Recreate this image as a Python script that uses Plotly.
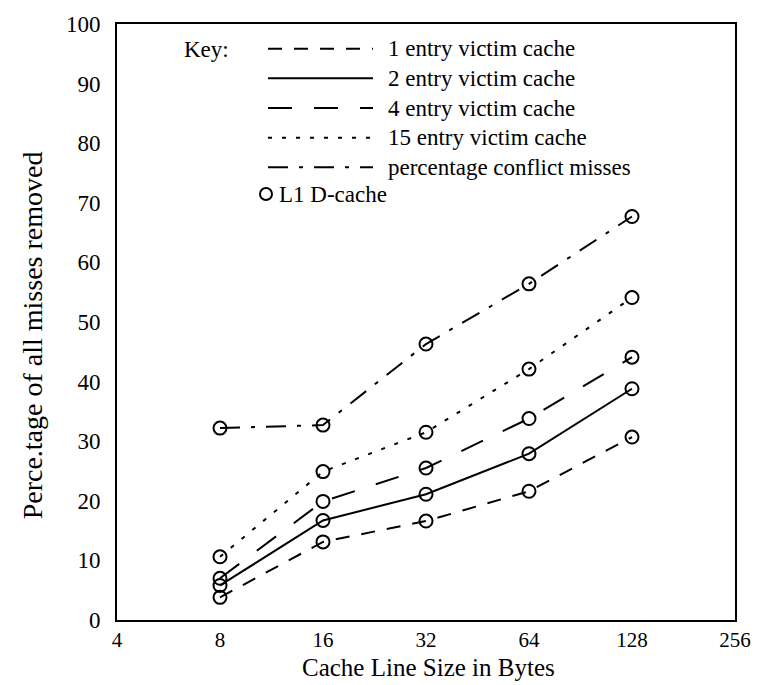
import plotly.graph_objects as go

# Cache line sizes (bytes) and the share of all misses removed (%)
line_sizes = [8, 16, 32, 64, 128]
victim_1 = [3.8, 13.1, 16.6, 21.6, 30.7]
victim_2 = [5.8, 16.7, 21.1, 27.9, 38.8]
victim_4 = [7.0, 19.9, 25.5, 33.8, 44.1]
victim_15 = [10.6, 24.9, 31.5, 42.1, 54.1]
conflict_pct = [32.2, 32.7, 46.3, 56.4, 67.7]

x_ticks = [4, 8, 16, 32, 64, 128, 256]
y_ticks = list(range(0, 101, 10))

series = [
    ("1 entry victim cache", victim_1, "14px,12px"),
    ("2 entry victim cache", victim_2, "solid"),
    ("4 entry victim cache", victim_4, "24px,22px"),
    ("15 entry victim cache", victim_15, "4px,10px"),
    ("percentage conflict misses", conflict_pct, "20px,11px,4px,11px"),
]

W, H = 767, 685
L, R, T, B = 117, 32, 17, 65
PW, PH = W - L - R, H - T - B
SERIF = "Liberation Serif, Times New Roman, serif"


def px_x(px):
    return (px - L) / PW


def px_y(py):
    return (H - B - py) / PH


fig = go.Figure()
for name, vals, dash in series:
    fig.add_trace(go.Scatter(
        x=line_sizes, y=vals, mode="lines+markers", name=name,
        line=dict(color="black", width=2, dash=dash),
        marker=dict(symbol="circle-open", size=13, color="black",
                    line=dict(width=2, color="black")),
        showlegend=False,
    ))

# Hand-drawn key in the upper-left corner of the plot
shapes = []
annotations = [dict(
    x=px_x(182), y=px_y(43), xref="paper", yref="paper",
    text="Key:", showarrow=False, xanchor="left", yanchor="middle",
    font=dict(family=SERIF, size=23, color="black"),
)]
row_y = [42, 72, 102, 132, 162]
for (name, _, dash), ry in zip(series, row_y):
    shapes.append(dict(
        type="line", xref="paper", yref="paper",
        x0=px_x(268), x1=px_x(373), y0=px_y(ry), y1=px_y(ry),
        line=dict(color="black", width=2, dash=dash),
    ))
    annotations.append(dict(
        x=px_x(386), y=px_y(ry), xref="paper", yref="paper",
        text=name, showarrow=False, xanchor="left", yanchor="middle",
        font=dict(family=SERIF, size=23, color="black"),
    ))
shapes.append(dict(
    type="circle", xref="paper", yref="paper",
    xsizemode="pixel", ysizemode="pixel",
    xanchor=px_x(266), yanchor=px_y(189),
    x0=-6, x1=6, y0=-6, y1=6,
    line=dict(color="black", width=2),
))
annotations.append(dict(
    x=px_x(277), y=px_y(189), xref="paper", yref="paper",
    text="L1 D-cache", showarrow=False, xanchor="left", yanchor="middle",
    font=dict(family=SERIF, size=23, color="black"),
))

# Axis titles
annotations.append(dict(
    x=px_x(428), y=px_y(668), xref="paper", yref="paper",
    text="Cache Line Size in Bytes", showarrow=False,
    xanchor="center", yanchor="middle",
    font=dict(family=SERIF, size=25, color="black"),
))
annotations.append(dict(
    x=px_x(32), y=px_y(332), xref="paper", yref="paper",
    text="Perce.tage of all misses removed", showarrow=False, textangle=-90,
    xanchor="center", yanchor="middle",
    font=dict(family=SERIF, size=28, color="black"),
))

fig.update_layout(
    width=W, height=H,
    margin=dict(l=L, r=R, t=T, b=B),
    paper_bgcolor="white", plot_bgcolor="white",
    shapes=shapes, annotations=annotations,
    font=dict(family=SERIF, color="black"),
)
fig.update_xaxes(
    type="log", range=[0.60206, 2.40824],
    tickvals=x_ticks, ticktext=[str(v) for v in x_ticks],
    showgrid=False, zeroline=False, ticks="",
    showline=True, linecolor="black", linewidth=2, mirror=True,
    tickfont=dict(family=SERIF, size=21, color="black"),
    ticklabelstandoff=0,
)
fig.update_yaxes(
    range=[0, 100], tickvals=y_ticks,
    showgrid=False, zeroline=False, ticks="",
    showline=True, linecolor="black", linewidth=2, mirror=True,
    tickfont=dict(family=SERIF, size=23, color="black"),
    ticklabelstandoff=10,
)

fig.write_html("out.html")
